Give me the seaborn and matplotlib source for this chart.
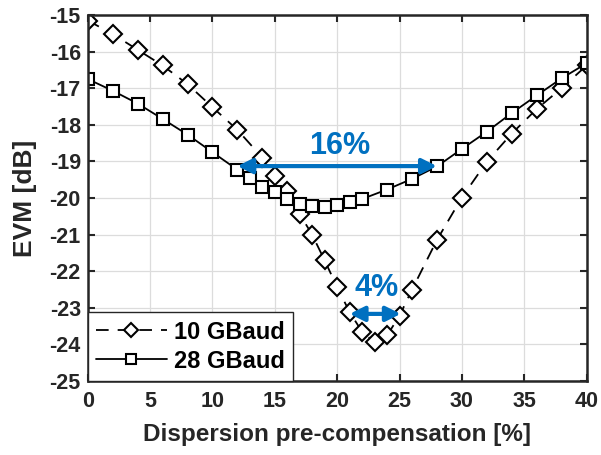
import matplotlib
matplotlib.use("Agg")
import matplotlib.pyplot as plt
import seaborn as sns
import numpy as np

# ---- data ----
x_10g = [0, 2, 4, 6, 8, 10, 12, 14, 15, 16, 17, 18, 19, 20, 21, 22, 23, 24, 25, 26, 28, 30, 32, 34, 36, 38, 40]
evm_10g = [-15.15, -15.52, -15.95, -16.38, -16.89, -17.52, -18.14, -18.90, -19.39, -19.80, -20.44, -21.01,
           -21.71, -22.44, -23.12, -23.66, -23.95, -23.76, -23.22, -22.51, -21.15, -19.99, -19.01, -18.24,
           -17.57, -17.00, -16.38]
x_28g = [0, 2, 4, 6, 8, 10, 12, 13, 14, 15, 16, 17, 18, 19, 20, 21, 22, 24, 26, 28, 30, 32, 34, 36, 38, 40]
evm_28g = [-16.75, -17.07, -17.42, -17.84, -18.27, -18.75, -19.23, -19.46, -19.71, -19.85, -20.03, -20.16,
           -20.21, -20.25, -20.19, -20.10, -20.03, -19.77, -19.48, -19.14, -18.66, -18.19, -17.68, -17.20,
           -16.73, -16.32]
series_labels = ["10 GBaud", "28 GBaud"]
x_ticks = [0, 5, 10, 15, 20, 25, 30, 35, 40]
y_ticks = [-25, -24, -23, -22, -21, -20, -19, -18, -17, -16, -15]
arrow16 = (12, 28, -19.13)
arrow4 = (21, 25.1, -23.17)
label16 = (20.2, -18.57, "16%")
label4 = (23.15, -22.45, "4%")

sns.set_theme(style="white")
plt.rcParams['font.family'] = ['Liberation Sans', 'DejaVu Sans']
plt.rcParams['axes.unicode_minus'] = False

dark = "#262626"
blue = "#0070C0"

fig = plt.figure(figsize=(6.01, 4.55), dpi=100)
ax = fig.add_axes([0.146, 0.163, 0.830, 0.804])

sns.lineplot(x=x_10g, y=evm_10g, ax=ax, color="black", linestyle=(0, (7, 5)), lw=1.3,
             marker="D", markersize=9, markerfacecolor="white", markeredgecolor="black",
             markeredgewidth=1.5, label=series_labels[0])
sns.lineplot(x=x_28g, y=evm_28g, ax=ax, color="black", linestyle="-", lw=1.3,
             marker="s", markersize=9, markerfacecolor="white", markeredgecolor="black",
             markeredgewidth=1.5, label=series_labels[1])

ax.set_xlim(0, 40)
ax.set_ylim(-25, -15)
ax.set_xticks(x_ticks)
ax.set_yticks(y_ticks)
ax.set_xticklabels([str(v) for v in x_ticks])
ax.set_yticklabels([str(v) for v in y_ticks])
ax.grid(True, color="#dcdcdc", lw=0.9)
ax.set_axisbelow(True)
for s in ax.spines.values():
    s.set_visible(True)
    s.set_color(dark)
    s.set_linewidth(1.8)
ax.tick_params(axis="both", which="both", direction="in", length=5, width=1.5, color=dark,
               top=True, right=True, bottom=True, left=True, labelsize=15.5, labelcolor=dark)
ax.tick_params(axis="x", pad=7)
ax.tick_params(axis="y", pad=5)
for lab in ax.get_xticklabels() + ax.get_yticklabels():
    lab.set_fontweight("bold")

ax.set_xlabel("Dispersion pre-compensation [%]", fontsize=17.5, fontweight="bold", color=dark, labelpad=8)
ax.set_ylabel("EVM [dB]", fontsize=19, fontweight="bold", color=dark, labelpad=9)

# arrows
for (x0, x1, yy) in (arrow16, arrow4):
    ax.annotate("", xy=(x1, yy), xytext=(x0, yy),
                arrowprops=dict(arrowstyle="<|-|>", color=blue, lw=3.0, mutation_scale=22,
                                shrinkA=0, shrinkB=0))
for (tx, ty, tt) in (label16, label4):
    ax.text(tx, ty, tt, color=blue, fontsize=22, fontweight="bold", ha="center", va="center")

leg = ax.legend(loc="lower left", borderaxespad=0, frameon=True, fancybox=False,
                prop=dict(size=17, weight="bold"), handlelength=3.0, handletextpad=0.3,
                labelspacing=0.25, borderpad=0.35, markerscale=0.75)
leg.get_frame().set_edgecolor(dark)
leg.get_frame().set_linewidth(1.0)
leg.get_frame().set_alpha(1)
for t in leg.get_texts():
    t.set_color("black")

fig.savefig("out.png", dpi=100)
